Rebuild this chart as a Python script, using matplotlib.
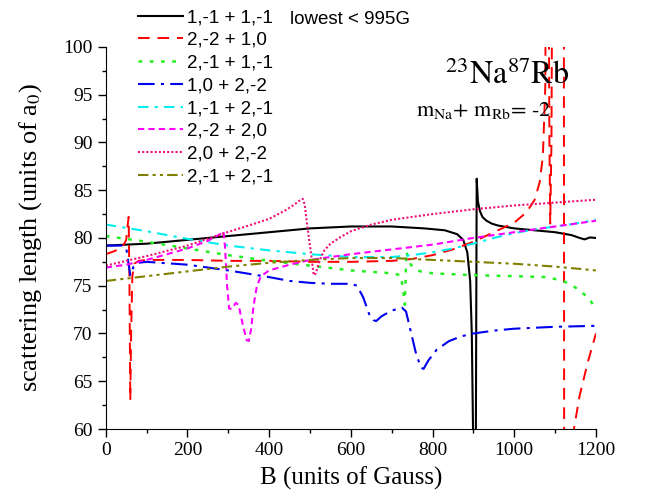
import numpy as np
import matplotlib
matplotlib.use("Agg")
import matplotlib.pyplot as plt

plt.rcParams['mathtext.fontset'] = 'stix'

labels = ["1,-1 + 1,-1", "2,-2 + 1,0", "2,-1 + 1,-1", "1,0 + 2,-2",
          "1,-1 + 2,-1", "2,-2 + 2,0", "2,0 + 2,-2", "2,-1 + 2,-1"]

black_B = [0, 100, 200, 300, 400, 500, 600, 700, 780, 830, 860, 875, 885, 892, 896, 899, 901,
           904, 906, 908, 911, 916, 922, 932, 945, 960, 1000, 1050, 1100, 1140, 1160, 1172, 1185, 1200]
black_a = [79.2, 79.4, 79.8, 80.2, 80.6, 81.0, 81.2, 81.2, 81.0, 80.8, 80.4, 79.8, 78.5, 75.5, 70, 60, 40,
           40, 60, 86.2, 83.8, 82.8, 82.2, 81.8, 81.5, 81.3, 81.0, 80.8, 80.6, 80.3, 80.0, 79.85, 80.05, 80.0]

red_B = [0, 20, 40, 50, 54, 56, 58, 60, 62, 65, 70, 80, 100, 200, 300, 400, 500, 600, 700, 750, 800,
         850, 900, 950, 1000, 1030, 1050, 1062, 1070, 1076, 1079, 1082, 1086, 1088, 1091, 1095, 1118,
         1121, 1122.5, 1140, 1146, 1160, 1180, 1200]
red_a = [78.3, 78.6, 79.0, 79.8, 81.5, 82.2, 75, 63, 70, 76, 77.3, 77.6, 77.7, 77.7, 77.6, 77.6, 77.5,
         77.5, 77.6, 77.8, 78.2, 78.8, 79.6, 80.6, 81.6, 82.7, 84.0, 85.8, 88.5, 96, 130, 130, 90, 81.5,
         90, 130, 130, 130, 30, 30, 60, 63.5, 67, 70]

green_B = [0, 100, 200, 300, 400, 500, 600, 700, 722, 728, 732, 736, 742, 752, 770, 800, 900, 1000,
           1080, 1120, 1150, 1180, 1200]
green_a = [80.2, 79.6, 78.9, 78.2, 77.6, 77.1, 76.6, 76.3, 76.1, 74.5, 73.0, 78.6, 77.5, 76.9, 76.5,
           76.3, 76.1, 76.0, 75.9, 75.5, 74.8, 73.8, 72.6]

blue_B = [0, 40, 50, 55, 60, 64, 68, 80, 100, 200, 300, 400, 450, 500, 550, 600, 615, 630, 645, 655,
          662, 675, 700, 725, 735, 745, 760, 772, 778, 790, 810, 840, 870, 900, 950, 1000, 1100, 1200]
blue_a = [79.2, 79.2, 79.0, 77.5, 76.1, 76.5, 77.0, 77.4, 77.5, 77.2, 76.6, 75.9, 75.5, 75.3, 75.2,
          75.2, 75.0, 73.8, 72.0, 71.4, 71.3, 71.8, 72.4, 72.7, 72.3, 70.5, 67.8, 66.4, 66.3, 67.2,
          68.3, 69.2, 69.7, 70.0, 70.3, 70.5, 70.7, 70.8]

cyan_B = [0, 100, 200, 300, 400, 500, 600, 700, 750, 800, 850, 900, 950, 1000, 1050, 1100, 1150, 1200]
cyan_a = [81.4, 80.7, 79.9, 79.2, 78.7, 78.3, 78.0, 78.0, 78.2, 78.5, 78.9, 79.4, 80.0, 80.5, 80.9,
          81.2, 81.5, 81.9]

magenta_B = [0, 50, 100, 150, 200, 250, 280, 288, 292, 297, 302, 310, 318, 325, 335, 345, 350, 356,
             362, 370, 380, 400, 450, 500, 600, 700, 800, 900, 1000, 1100, 1200]
magenta_a = [76.9, 77.2, 77.7, 78.3, 78.9, 79.7, 80.4, 80.7, 79.0, 75.0, 72.6, 72.6, 73.2, 73.0, 71.0,
             69.3, 69.2, 70.5, 73.0, 75.0, 76.0, 76.6, 77.2, 77.7, 78.3, 78.8, 79.3, 80.0, 80.6, 81.2, 81.8]

pink_B = [0, 100, 200, 290, 350, 400, 440, 462, 474, 482, 487, 494, 502, 509, 514, 519, 526, 535,
          550, 575, 600, 650, 700, 800, 900, 1000, 1100, 1200]
pink_a = [77.1, 78.1, 79.2, 80.5, 81.3, 82.0, 82.9, 83.5, 83.9, 84.1, 83.5, 81.0, 78.5, 76.1, 76.3,
          77.0, 77.9, 78.7, 79.4, 80.1, 80.7, 81.4, 81.9, 82.5, 83.0, 83.4, 83.7, 84.0]

olive_B = [0, 100, 200, 300, 400, 500, 600, 700, 800, 900, 1000, 1100, 1200]
olive_a = [75.5, 76.0, 76.5, 77.0, 77.4, 77.7, 77.9, 77.9, 77.7, 77.5, 77.3, 77.0, 76.6]

series = [
    (black_B, black_a, 'black', '-', 1.5),
    (red_B, red_a, '#ff0000', (0, (6, 4)), 1.4),
    (green_B, green_a, '#22ee22', (0, (1.5, 3)), 1.8),
    (blue_B, blue_a, '#0000ee', (0, (8, 3, 1.5, 3)), 1.5),
    (cyan_B, cyan_a, '#00eeee', (0, (5, 3, 1.5, 3)), 1.5),
    (magenta_B, magenta_a, '#ff00ff', (0, (3, 2)), 1.5),
    (pink_B, pink_a, '#ee1177', (0, (1, 1)), 1.5),
    (olive_B, olive_a, '#808000', (0, (5, 2, 1.5, 2, 1.5, 2)), 1.5),
]

fig = plt.figure(figsize=(6.45, 4.95), dpi=100)
ax = fig.add_axes([0.164, 0.1333, 0.760, 0.772])

handles = []
for (B, a, c, ls, lw), lab in zip(series, labels):
    h, = ax.plot(B, a, color=c, linestyle=ls, linewidth=lw, label=lab)
    handles.append(h)

ax.set_xlim(0, 1200)
ax.set_ylim(60, 100)
ax.set_xticks(np.arange(0, 1201, 200))
ax.set_xticks(np.arange(0, 1201, 100), minor=True)
ax.set_yticks(np.arange(60, 101, 5))
ax.set_yticks(np.arange(60, 101, 2.5), minor=True)
for s in ['top', 'right']:
    ax.spines[s].set_visible(False)
ax.tick_params(which='major', direction='out', length=6, width=1)
ax.tick_params(which='minor', direction='out', length=3, width=1)
for t in ax.get_xticklabels() + ax.get_yticklabels():
    t.set_fontfamily('Liberation Serif')
    t.set_fontsize(14)

ax.set_xlabel('B (units of Gauss)', fontfamily='Liberation Serif', fontsize=18, labelpad=5)
ax.set_ylabel(r'scattering length (units of a$_0$)', fontfamily='Liberation Serif', fontsize=19, labelpad=14)

fig.legend(handles=handles, loc='upper left', bbox_to_anchor=(0.203, 0.997), frameon=False,
           prop={'family': 'Liberation Sans', 'size': 13.5}, handlelength=2.4,
           labelspacing=0.3, handletextpad=0.2, borderaxespad=0)
fig.text(0.45, 0.961, 'lowest < 995G', fontfamily='Liberation Sans', fontsize=13.5, va='center')

fig.text(0.787, 0.847, r'$^{23}$Na$^{87}$Rb', fontsize=23, ha='center', va='center',
         fontfamily='STIXGeneral')
fig.text(0.75, 0.777, r'm$_{\rm Na}$+ m$_{\rm Rb}$= -2', fontsize=16,
         ha='center', va='center', fontfamily='STIXGeneral')

fig.savefig('out.png', dpi=100)
